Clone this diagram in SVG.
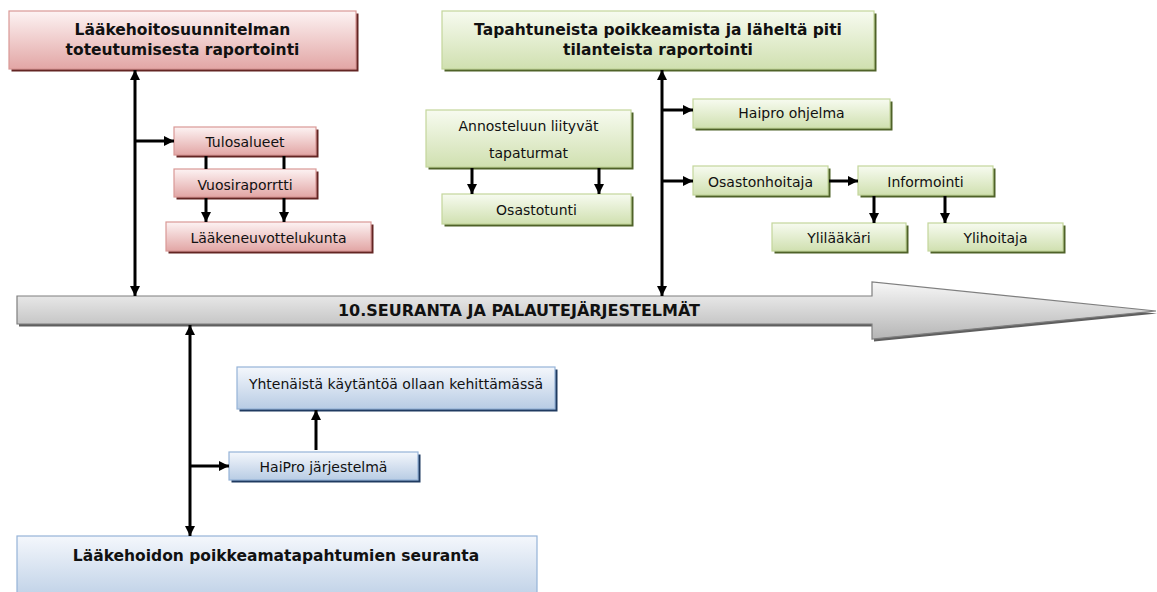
<svg xmlns="http://www.w3.org/2000/svg" width="1157" height="592" viewBox="0 0 1157 592">
  <defs>
    <linearGradient id="gRed" x1="0" y1="0" x2="0" y2="1">
      <stop offset="0" stop-color="#fdf3f3"/>
      <stop offset="1" stop-color="#e2a6a5"/>
    </linearGradient>
    <linearGradient id="gGreen" x1="0" y1="0" x2="0" y2="1">
      <stop offset="0" stop-color="#f7fbf0"/>
      <stop offset="1" stop-color="#d0e0b0"/>
    </linearGradient>
    <linearGradient id="gBlue" x1="0" y1="0" x2="0" y2="1">
      <stop offset="0" stop-color="#f4f7fc"/>
      <stop offset="1" stop-color="#b8cce4"/>
    </linearGradient>
    <linearGradient id="gGray" x1="0" y1="0" x2="0" y2="1">
      <stop offset="0" stop-color="#f7f7f7"/>
      <stop offset="1" stop-color="#b5b5b5"/>
    </linearGradient>
    <marker id="ah" viewBox="0 0 10 10" refX="10" refY="5" markerWidth="10" markerHeight="10" markerUnits="userSpaceOnUse" orient="auto-start-reverse">
      <path d="M0,0 L10,5 L0,10 Z" fill="#000"/>
    </marker>
    <style>
      .red { fill: url(#gRed); stroke: #d99896; stroke-width: 1.2; }
      .redS { fill: #632523; }
      .green { fill: url(#gGreen); stroke: #c3d69b; stroke-width: 1.2; }
      .greenS { fill: #4f6228; }
      .blue { fill: url(#gBlue); stroke: #95b3d7; stroke-width: 1.2; }
      .blueS { fill: #1f3a60; }
      .t { font-family: "DejaVu Sans", "Liberation Sans", sans-serif; font-size: 14px; fill: #111; text-anchor: middle; }
      .tb { font-family: "DejaVu Sans", "Liberation Sans", sans-serif; font-size: 15.5px; font-weight: bold; fill: #111; text-anchor: middle; }
      .c { fill: none; stroke: #000; stroke-width: 3; }
      .ca { fill: none; stroke: #000; stroke-width: 3; marker-end: url(#ah); }
      .cb { fill: none; stroke: #000; stroke-width: 3; marker-start: url(#ah); marker-end: url(#ah); }
    </style>
  </defs>

  <rect width="1157" height="592" fill="#fff"/>

  <!-- main timeline arrow -->
  <g id="seuranta">
    <path d="M19,298.5 L874,298.5 L874,284.5 L1158,313.5 L874,341.5 L874,326.5 L19,326.5 Z" fill="#5f5f5f"/>
    <path d="M17,296 L872,296 L872,282 L1156,311 L872,339 L872,324 L17,324 Z" fill="url(#gGray)" stroke="#7f7f7f" stroke-width="1.2"/>
    <text class="tb" x="519" y="316" style="font-size:16px">10.SEURANTA JA PALAUTEJÄRJESTELMÄT</text>
  </g>

  <!-- red branch -->
  <g id="laakehoitosuunnitelma">
    <rect class="redS" x="11.5" y="13.5" width="347" height="58"/>
    <rect class="red" x="9" y="11" width="347" height="58"/>
    <text class="tb" x="182.5" y="35">Lääkehoitosuunnitelman</text>
    <text class="tb" x="182.5" y="55">toteutumisesta raportointi</text>
  </g>
  <g id="tulosalueet">
    <rect class="redS" x="176.5" y="129.5" width="142" height="28"/>
    <rect class="red" x="174" y="127" width="142" height="28"/>
    <text class="t" x="245" y="147">Tulosalueet</text>
  </g>
  <g id="vuosiraportti">
    <rect class="redS" x="176.5" y="171.5" width="142" height="28"/>
    <rect class="red" x="174" y="169" width="142" height="28"/>
    <text class="t" x="245" y="190">Vuosiraporrtti</text>
  </g>
  <g id="laakeneuvottelukunta">
    <rect class="redS" x="168.5" y="224.5" width="205" height="29"/>
    <rect class="red" x="166" y="222" width="205" height="29"/>
    <text class="t" x="268.5" y="243">Lääkeneuvottelukunta</text>
  </g>

  <!-- green branch -->
  <g id="poikkeamat">
    <rect class="greenS" x="444.5" y="13.5" width="432" height="58"/>
    <rect class="green" x="442" y="11" width="432" height="58"/>
    <text class="tb" x="658" y="35">Tapahtuneista poikkeamista ja läheltä piti</text>
    <text class="tb" x="658" y="55">tilanteista raportointi</text>
  </g>
  <g id="annosteluun">
    <rect class="greenS" x="428.5" y="112.5" width="205" height="57"/>
    <rect class="green" x="426" y="110" width="205" height="57"/>
    <text class="t" x="528.5" y="131">Annosteluun liityvät</text>
    <text class="t" x="528.5" y="158">tapaturmat</text>
  </g>
  <g id="osastotunti">
    <rect class="greenS" x="444.5" y="196.5" width="189" height="30"/>
    <rect class="green" x="442" y="194" width="189" height="30"/>
    <text class="t" x="536.5" y="215">Osastotunti</text>
  </g>
  <g id="haipro-ohjelma">
    <rect class="greenS" x="695.5" y="101.5" width="197" height="29"/>
    <rect class="green" x="693" y="99" width="197" height="29"/>
    <text class="t" x="791.5" y="118">Haipro ohjelma</text>
  </g>
  <g id="osastonhoitaja">
    <rect class="greenS" x="695.5" y="168.5" width="135" height="29"/>
    <rect class="green" x="693" y="166" width="135" height="29"/>
    <text class="t" x="760.5" y="187">Osastonhoitaja</text>
  </g>
  <g id="informointi">
    <rect class="greenS" x="860.5" y="168.5" width="135" height="29"/>
    <rect class="green" x="858" y="166" width="135" height="29"/>
    <text class="t" x="925.5" y="187">Informointi</text>
  </g>
  <g id="ylilaakari">
    <rect class="greenS" x="774.5" y="225.5" width="134" height="28"/>
    <rect class="green" x="772" y="223" width="134" height="28"/>
    <text class="t" x="839" y="243">Ylilääkäri</text>
  </g>
  <g id="ylihoitaja">
    <rect class="greenS" x="930.5" y="225.5" width="135" height="28"/>
    <rect class="green" x="928" y="223" width="135" height="28"/>
    <text class="t" x="995.5" y="243">Ylihoitaja</text>
  </g>

  <!-- blue branch -->
  <g id="yhtenainen-kaytanto">
    <rect class="blueS" x="239.5" y="369.5" width="318" height="42"/>
    <rect class="blue" x="237" y="367" width="318" height="42"/>
    <text class="t" x="396" y="389">Yhtenäistä käytäntöä ollaan kehittämässä</text>
  </g>
  <g id="haipro-jarjestelma">
    <rect class="blueS" x="231.5" y="454.5" width="189" height="28"/>
    <rect class="blue" x="229" y="452" width="189" height="28"/>
    <text class="t" x="323.5" y="472">HaiPro järjestelmä</text>
  </g>
  <g id="poikkeamatapahtumat">
    <rect class="blue" x="17" y="536" width="520" height="70"/>
    <text class="tb" x="276" y="561">Lääkehoidon poikkeamatapahtumien seuranta</text>
  </g>

  <!-- connectors -->
  <g id="connectors">
    <path class="cb" d="M135,70 L135,296"/>
    <path class="ca" d="M135,141 L174,141"/>
    <path class="c" d="M206,156 L206,169 M284,156 L284,169"/>
    <path class="ca" d="M206,198 L206,222"/>
    <path class="ca" d="M284,198 L284,222"/>

    <path class="cb" d="M662,70 L662,296"/>
    <path class="ca" d="M662,110 L693,110"/>
    <path class="ca" d="M662,181 L693,181"/>
    <path class="ca" d="M829,181 L858,181"/>
    <path class="ca" d="M874,196 L874,223"/>
    <path class="ca" d="M945,196 L945,223"/>
    <path class="ca" d="M472,168 L472,194"/>
    <path class="ca" d="M599,168 L599,194"/>

    <path class="cb" d="M190,325 L190,536"/>
    <path class="ca" d="M190,466 L229,466"/>
    <path class="ca" d="M316,450 L316,410"/>
  </g>
</svg>
